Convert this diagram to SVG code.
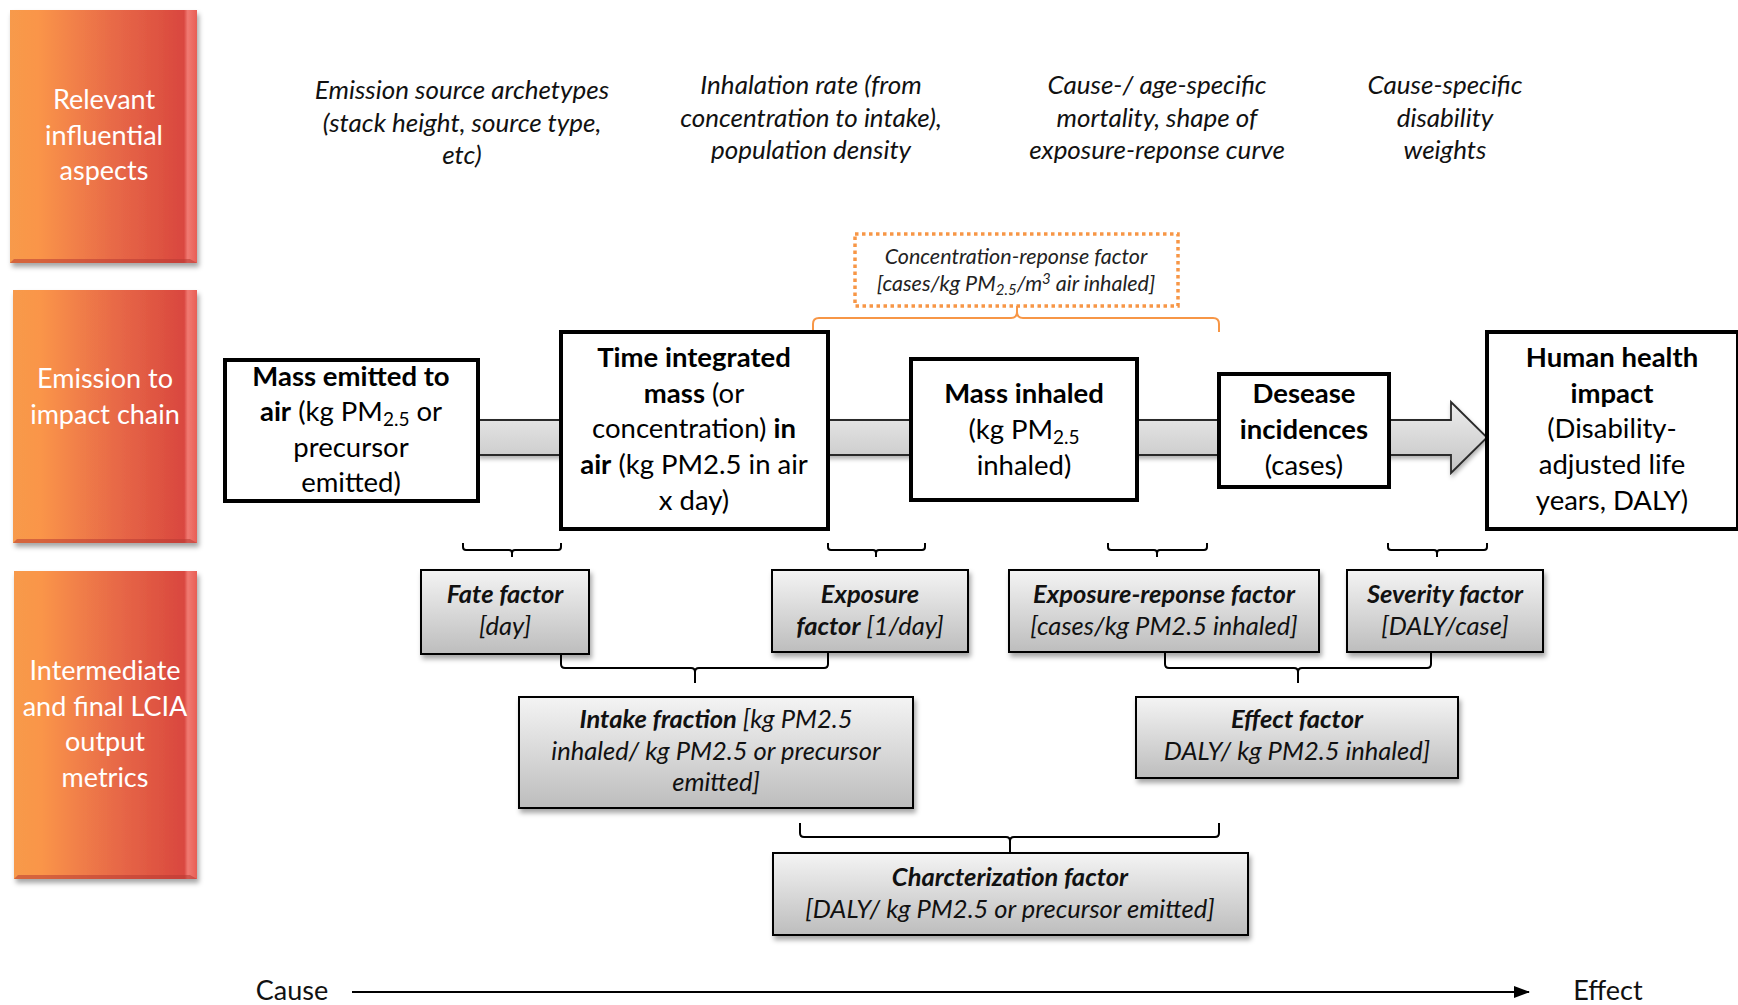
<svg xmlns="http://www.w3.org/2000/svg" width="1738" height="1005" viewBox="0 0 1738 1005">
<defs>
  <linearGradient id="og" x1="0" y1="0" x2="1" y2="0">
    <stop offset="0" stop-color="#F79A4B"/>
    <stop offset="0.15" stop-color="#FA9549"/>
    <stop offset="0.55" stop-color="#E86A47"/>
    <stop offset="0.93" stop-color="#D9473F"/>
    <stop offset="0.95" stop-color="#F07A72"/>
    <stop offset="1" stop-color="#E85E55"/>
  </linearGradient>
  <linearGradient id="gg" x1="0" y1="0" x2="0" y2="1">
    <stop offset="0" stop-color="#F4F4F4"/>
    <stop offset="1" stop-color="#BDBDBD"/>
  </linearGradient>
  <linearGradient id="bar" x1="0" y1="0" x2="0" y2="1">
    <stop offset="0" stop-color="#EDEDED"/>
    <stop offset="1" stop-color="#C4C4C4"/>
  </linearGradient>
  <filter id="sh" x="-10%" y="-10%" width="125%" height="130%">
    <feDropShadow dx="2" dy="4" stdDeviation="2.5" flood-color="#000" flood-opacity="0.35"/>
  </filter>
  <filter id="sh2" x="-5%" y="-20%" width="110%" height="150%">
    <feDropShadow dx="1" dy="3" stdDeviation="2" flood-color="#000" flood-opacity="0.3"/>
  </filter>
  <marker id="ah" markerWidth="16" markerHeight="12" refX="15" refY="6" orient="auto" markerUnits="userSpaceOnUse">
    <path d="M0,0 L16,6 L0,12 Z" fill="#000"/>
  </marker>
  <style>
    text { font-family: Lato, "Liberation Sans", sans-serif; text-anchor: middle; }
    .ol { fill: #fff; font-size: 27px; }
    .top { font-style: italic; font-size: 26px; fill: #111; }
    .cb { font-size: 27.5px; fill: #000; }
    .b { font-weight: bold; }
    .gb { font-size: 25.5px; font-style: italic; fill: #111; }
    .ob { fill: url(#og); filter: url(#sh); }
    .bev { fill: #B83A33; opacity: 0.55; }
    .chain { fill: #fff; stroke: #000; stroke-width: 4; }
    .gray { fill: url(#gg); stroke: #000; stroke-width: 2; filter: url(#sh); }
    .br { fill: none; stroke: #000; stroke-width: 2; stroke-linejoin: round; }
    .obr { fill: none; stroke: #F79646; stroke-width: 2; }
  </style>
</defs>
<rect width="1738" height="1005" fill="#fff"/>

<!-- Orange row labels -->
<g id="row-relevant">
  <rect class="ob" x="10" y="10" width="187" height="253"/>
  <path class="bev" d="M10,263 L14,259 H190 L197,263 Z"/>
  <text class="ol"><tspan x="104" y="109">Relevant</tspan><tspan x="104" y="145">influential</tspan><tspan x="104" y="180">aspects</tspan></text>
</g>
<g id="row-chain">
  <rect class="ob" x="13" y="290" width="184" height="253"/>
  <path class="bev" d="M13,543 L17,539 H190 L197,543 Z"/>
  <text class="ol"><tspan x="105" y="388">Emission to</tspan><tspan x="105" y="424">impact chain</tspan></text>
</g>
<g id="row-metrics">
  <rect class="ob" x="14" y="571" width="183" height="308"/>
  <path class="bev" d="M14,879 L18,875 H190 L197,879 Z"/>
  <text class="ol"><tspan x="105" y="680">Intermediate</tspan><tspan x="105" y="716">and final LCIA</tspan><tspan x="105" y="751">output</tspan><tspan x="105" y="787">metrics</tspan></text>
</g>

<!-- Top influential aspect texts -->
<g id="aspect-emission">
  <text class="top"><tspan x="462" y="99">Emission source archetypes</tspan><tspan x="462" y="132">(stack height, source type,</tspan><tspan x="462" y="164">etc)</tspan></text>
</g>
<g id="aspect-inhalation">
  <text class="top"><tspan x="811" y="94">Inhalation rate (from</tspan><tspan x="811" y="127">concentration to intake),</tspan><tspan x="811" y="159">population density</tspan></text>
</g>
<g id="aspect-mortality">
  <text class="top"><tspan x="1157" y="94">Cause-/ age-specific</tspan><tspan x="1157" y="127">mortality, shape of</tspan><tspan x="1157" y="159">exposure-reponse curve</tspan></text>
</g>
<g id="aspect-disability">
  <text class="top"><tspan x="1445" y="94">Cause-specific</tspan><tspan x="1445" y="127">disability</tspan><tspan x="1445" y="159">weights</tspan></text>
</g>

<!-- Connectors -->
<g id="connectors">
  <path id="chain-arrow" d="M478,420 H1451 V402 L1487,437.5 L1451,473 V455 H478 Z" fill="url(#bar)" stroke="#2a2a2a" stroke-width="1.8" filter="url(#sh2)"/>
  <path class="obr" d="M813,333 V324 Q813,318 819,318 H1011 Q1017,318 1017,312 V306 M1017,312 Q1017,318 1023,318 H1213 Q1219,318 1219,324 V332"/>
  <path class="br" d="M463,543 V547 Q463,550 466,550 H509 Q512,550 512,553 V557 M512,553 Q512,550 515,550 H558 Q561,550 561,547 V543"/>
  <path class="br" d="M828,543 V547 Q828,550 831,550 H873 Q876,550 876,553 V557 M876,553 Q876,550 879,550 H922 Q925,550 925,547 V543"/>
  <path class="br" d="M1108,543 V547 Q1108,550 1111,550 H1154 Q1157,550 1157,553 V557 M1157,553 Q1157,550 1160,550 H1204 Q1207,550 1207,547 V543"/>
  <path class="br" d="M1388,543 V547 Q1388,550 1391,550 H1434 Q1437,550 1437,553 V557 M1437,553 Q1437,550 1440,550 H1484 Q1487,550 1487,547 V543"/>
  <path class="br" d="M561,654 V664 Q561,668 565,668 H691 Q695,668 695,672 V683 M695,672 Q695,668 699,668 H824 Q828,668 828,664 V652"/>
  <path class="br" d="M1165,652 V664 Q1165,668 1169,668 H1294 Q1298,668 1298,672 V683 M1298,672 Q1298,668 1302,668 H1427 Q1431,668 1431,664 V652"/>
  <path class="br" d="M800,823 V833 Q800,837 804,837 H1006 Q1010,837 1010,841 V853 M1010,841 Q1010,837 1014,837 H1215 Q1219,837 1219,833 V823"/>
  <line x1="352" y1="992" x2="1529" y2="992" stroke="#000" stroke-width="2" marker-end="url(#ah)"/>
</g>

<!-- Concentration-response factor (dashed) -->
<g id="crf">
  <rect x="855" y="234" width="323" height="72" fill="none" stroke="#F79646" stroke-width="3.5" stroke-dasharray="3.5 3.5"/>
  <text style="font-style:italic;font-size:21.5px;fill:#222"><tspan x="1016" y="264">Concentration-reponse factor</tspan><tspan x="1016" y="291">[cases/kg PM<tspan font-size="15" dy="4">2.5</tspan><tspan dy="-4">/m</tspan><tspan font-size="15" dy="-7">3</tspan><tspan dy="7"> air inhaled]</tspan></tspan></text>
</g>

<!-- Chain boxes -->
<g id="mass-emitted">
  <rect class="chain" x="225" y="360" width="253" height="141"/>
  <text class="cb"><tspan x="351" y="386" class="b">Mass emitted to</tspan><tspan x="351" y="421"><tspan class="b">air</tspan> (kg PM<tspan font-size="19" dy="5">2.5</tspan><tspan dy="-5"> or</tspan></tspan><tspan x="351" y="457">precursor</tspan><tspan x="351" y="492">emitted)</tspan></text>
</g>
<g id="time-integrated">
  <rect class="chain" x="561" y="332" width="267" height="197"/>
  <text class="cb"><tspan x="694" y="367" class="b">Time integrated</tspan><tspan x="694" y="403"><tspan class="b">mass</tspan> (or</tspan><tspan x="694" y="438">concentration) <tspan class="b">in</tspan></tspan><tspan x="694" y="474"><tspan class="b">air</tspan> (kg PM2.5 in air</tspan><tspan x="694" y="510">x day)</tspan></text>
</g>
<g id="mass-inhaled">
  <rect class="chain" x="911" y="359" width="226" height="141"/>
  <text class="cb"><tspan x="1024" y="403" class="b">Mass inhaled</tspan><tspan x="1024" y="439">(kg PM<tspan font-size="19" dy="5">2.5</tspan></tspan><tspan x="1024" y="475">inhaled)</tspan></text>
</g>
<g id="desease-incidences">
  <rect class="chain" x="1219" y="374" width="170" height="113"/>
  <text class="cb"><tspan x="1304" y="403" class="b">Desease</tspan><tspan x="1304" y="439" class="b">incidences</tspan><tspan x="1304" y="475">(cases)</tspan></text>
</g>
<g id="human-health">
  <rect class="chain" x="1487" y="332" width="251" height="197"/>
  <text class="cb"><tspan x="1612" y="367" class="b">Human health</tspan><tspan x="1612" y="403" class="b">impact</tspan><tspan x="1612" y="438">(Disability-</tspan><tspan x="1612" y="474">adjusted life</tspan><tspan x="1612" y="510">years, DALY)</tspan></text>
</g>

<!-- Factor boxes -->
<g id="fate-factor">
  <rect class="gray" x="421" y="570" width="168" height="84"/>
  <text class="gb"><tspan x="505" y="603" class="b">Fate factor</tspan><tspan x="505" y="635">[day]</tspan></text>
</g>
<g id="exposure-factor">
  <rect class="gray" x="772" y="570" width="196" height="82"/>
  <text class="gb"><tspan x="870" y="603" class="b">Exposure</tspan><tspan x="870" y="635"><tspan class="b">factor</tspan> [1/day]</tspan></text>
</g>
<g id="exposure-response-factor">
  <rect class="gray" x="1009" y="570" width="310" height="82"/>
  <text class="gb"><tspan x="1164" y="603" class="b">Exposure-reponse factor</tspan><tspan x="1164" y="635">[cases/kg PM2.5 inhaled]</tspan></text>
</g>
<g id="severity-factor">
  <rect class="gray" x="1347" y="570" width="196" height="82"/>
  <text class="gb"><tspan x="1445" y="603" class="b">Severity factor</tspan><tspan x="1445" y="635">[DALY/case]</tspan></text>
</g>
<g id="intake-fraction">
  <rect class="gray" x="519" y="697" width="394" height="111"/>
  <text class="gb"><tspan x="716" y="728"><tspan class="b">Intake fraction</tspan> [kg PM2.5</tspan><tspan x="716" y="760">inhaled/ kg PM2.5  or precursor</tspan><tspan x="716" y="791">emitted]</tspan></text>
</g>
<g id="effect-factor">
  <rect class="gray" x="1136" y="697" width="322" height="81"/>
  <text class="gb"><tspan x="1297" y="728" class="b">Effect factor</tspan><tspan x="1297" y="760">DALY/ kg PM2.5  inhaled]</tspan></text>
</g>
<g id="characterization-factor">
  <rect class="gray" x="773" y="853" width="475" height="82"/>
  <text class="gb"><tspan x="1010" y="886" class="b">Charcterization factor</tspan><tspan x="1010" y="918">[DALY/ kg PM2.5  or precursor emitted]</tspan></text>
</g>

<!-- Cause / Effect axis labels -->
<g id="axis-labels">
  <text style="font-size:27px;fill:#111"><tspan x="292" y="1000">Cause</tspan></text>
  <text style="font-size:27px;fill:#111"><tspan x="1608" y="1000">Effect</tspan></text>
</g>
</svg>
